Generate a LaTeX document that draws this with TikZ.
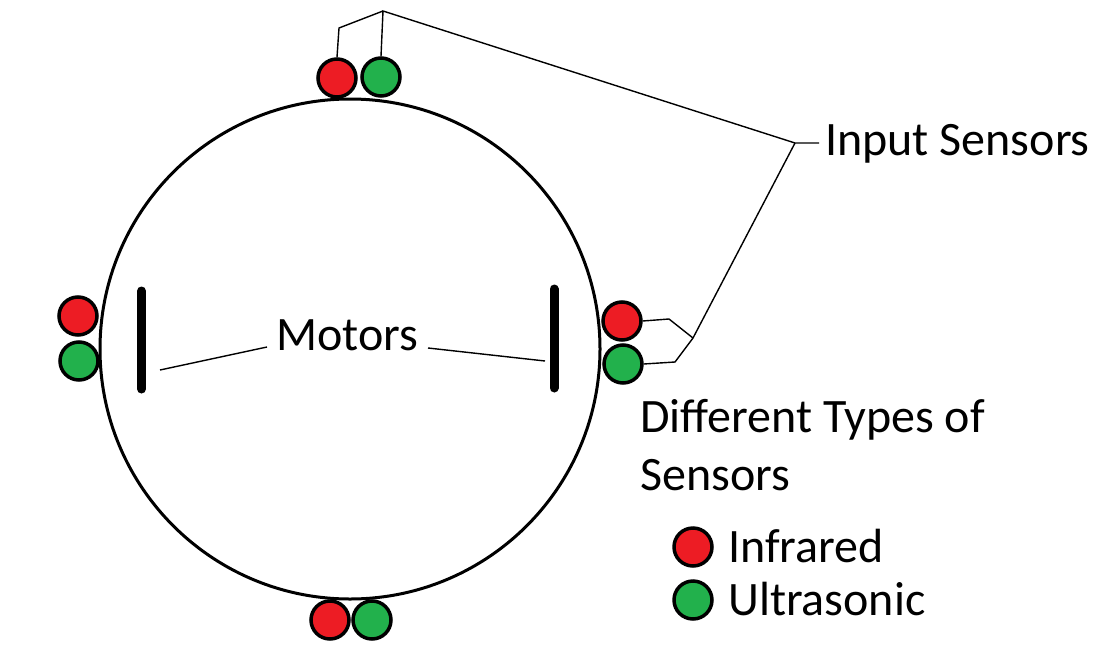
\documentclass[tikz,border=0pt]{standalone}
\usepackage{fontspec}
\setmainfont{Carlito}
\definecolor{irred}{HTML}{ED1C24}
\definecolor{usgreen}{HTML}{22B14C}
\begin{document}
\begin{tikzpicture}[x=1pt,y=-1pt,
  sensor/.style={circle,draw=black,line width=3.5pt,minimum size=38pt,inner sep=0pt},
  ir/.style={sensor,fill=irred},
  us/.style={sensor,fill=usgreen},
  thin line/.style={line width=1.4pt},
  motor/.style={line width=9pt,line cap=round},
  lbl/.style={anchor=base west,inner sep=0pt,font=\fontsize{48}{58}\selectfont}]
\useasboundingbox (0,0) rectangle (1100,648);
% body
\node[circle,draw,line width=3pt,minimum size=500pt,inner sep=0pt] (body) at (350,349) {};
% motors
\coordinate (ml1) at (141.5,291);
\coordinate (ml2) at (141.5,389);
\coordinate (mr1) at (554,289);
\coordinate (mr2) at (554,388);
\draw[motor] (ml1) -- (ml2);
\draw[motor] (mr1) -- (mr2);
% sensors
\node[ir] (tr) at (337,78) {};
\node[us] (tg) at (381,77) {};
\node[ir] (lr) at (78,316) {};
\node[us] (lg) at (79,361) {};
\node[ir] (rr) at (622,321) {};
\node[us] (rg) at (623,364) {};
\node[ir] (br) at (330,620) {};
\node[us] (bg) at (372,620) {};
% labels
\node[lbl] (inp) at (825,155) {Input Sensors};
\node[lbl] (mot) at (276,350) {Motors};
\node[lbl] (dt1) at (640,432) {Different Types of};
\node[lbl] (dt2) at (640,490) {Sensors};
\node[ir] (lgr) at (693,547) {};
\node[us] (lgg) at (693,600) {};
\node[lbl] (lir) at (728,562) {Infrared};
\node[lbl] (lus) at (728,615) {Ultrasonic};
% connectors
\coordinate (k1) at (339,28);
\coordinate (j1) at (383,11);
\coordinate (hub) at (795,143);
\coordinate (hubend) at (819,143);
\coordinate (j2) at (693,338);
\coordinate (m1) at (669,319);
\coordinate (m2) at (675,362);
\draw[thin line] (tr.north) -- (k1) -- (j1);
\draw[thin line] (tg.north) -- (j1) -- (hub) -- (hubend);
\draw[thin line] (hub) -- (j2);
\draw[thin line] (rr.east) -- (m1) -- (j2);
\draw[thin line] (rg.east) -- (m2) -- (j2);
\coordinate (ma) at (160,370);
\coordinate (mb) at (267,347);
\coordinate (mc) at (428,348);
\coordinate (md) at (545,361);
\draw[thin line] (ma) -- (mb);
\draw[thin line] (mc) -- (md);
\end{tikzpicture}
\end{document}
